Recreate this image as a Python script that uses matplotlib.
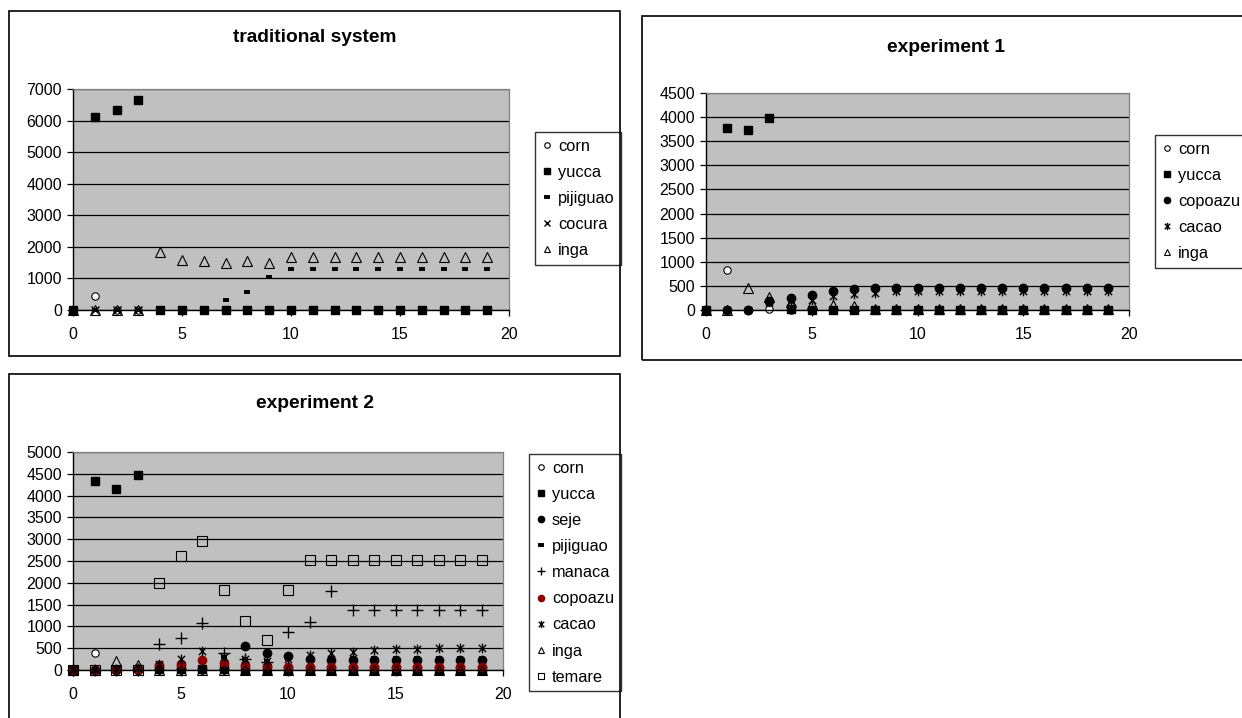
import matplotlib
matplotlib.use("Agg")
import matplotlib.pyplot as plt
from matplotlib.patches import Rectangle
from matplotlib.path import Path

plt.rcParams['font.family'] = ['Liberation Sans', 'DejaVu Sans']

years = list(range(20))

# traditional system
trad_corn = [0, 440, 0, 0, 0, 0, 0, 0, 0, 0, 0, 0, 0, 0, 0, 0, 0, 0, 0, 0]
trad_yucca = [0, 6100, 6340, 6650, 0, 0, 0, 0, 0, 0, 0, 0, 0, 0, 0, 0, 0, 0, 0, 0]
trad_pijiguao = [0, 0, 0, 0, 0, 0, 0, 320, 560, 1050, 1300, 1300, 1300, 1300, 1300, 1300, 1300, 1300, 1300, 1300]
trad_cocura = [0, 0, 0, 0, 0, 0, 0, 0, 0, 0, 0, 0, 0, 0, 0, 0, 0, 0, 0, 0]
trad_inga = [0, 0, 0, 0, 1850, 1590, 1545, 1500, 1550, 1500, 1680, 1680, 1680, 1680, 1680, 1680, 1680, 1680, 1680, 1680]

# experiment 1
e1_corn = [0, 830, 0, 15, 0, 0, 0, 0, 0, 0, 0, 0, 0, 0, 0, 0, 0, 0, 0, 0]
e1_yucca = [0, 3780, 3730, 3990, 20, 10, 10, 10, 0, 0, 0, 0, 0, 0, 0, 0, 0, 0, 0, 0]
e1_copoazu = [0, 0, 0, 190, 245, 320, 385, 435, 460, 460, 460, 460, 460, 460, 460, 460, 460, 460, 460, 460]
e1_cacao = [0, 0, 0, 175, 190, 215, 290, 330, 355, 385, 385, 385, 385, 385, 385, 385, 385, 385, 385, 385]
e1_inga = [0, 0, 460, 270, 160, 120, 100, 90, 30, 30, 30, 30, 30, 30, 30, 30, 30, 30, 30, 30]

# experiment 2
e2_corn = [0, 380, 0, 30, 0, 0, 0, 0, 0, 0, 0, 0, 0, 0, 0, 0, 0, 0, 0, 0]
e2_yucca = [0, 4330, 4160, 4480, 30, 30, 30, 30, 0, 0, 0, 0, 0, 0, 0, 0, 0, 0, 0, 0]
e2_seje = [0, 0, 0, 0, 20, 20, 30, 30, 545, 400, 310, 260, 240, 240, 240, 240, 240, 240, 240, 240]
e2_pijiguao = [0, 0, 0, 0, 0, 0, 0, 300, 250, 200, 250, 280, 280, 280, 280, 280, 280, 280, 280, 280]
e2_manaca = [0, 0, 0, 0, 595, 730, 1080, 390, 250, 180, 880, 1110, 1810, 1370, 1370, 1370, 1370, 1370, 1370, 1370]
e2_copoazu = [0, 0, 0, 30, 120, 140, 220, 160, 120, 100, 80, 80, 80, 80, 80, 80, 80, 80, 80, 80]
e2_cacao = [0, 0, 0, 50, 140, 250, 430, 300, 260, 200, 260, 335, 390, 405, 455, 485, 485, 515, 515, 515]
e2_inga = [0, 0, 210, 115, 0, 0, 0, 0, 0, 0, 0, 0, 0, 0, 0, 0, 0, 0, 0, 0]
e2_temare = [0, 0, 0, 0, 2005, 2615, 2960, 1830, 1120, 695, 1830, 2530, 2530, 2530, 2530, 2530, 2530, 2530, 2530, 2530]

# excel style asterisk: x with a vertical bar
asterisk = Path([(0, -1), (0, 1), (-0.75, -0.75), (0.75, 0.75), (-0.75, 0.75), (0.75, -0.75)],
                [Path.MOVETO, Path.LINETO, Path.MOVETO, Path.LINETO, Path.MOVETO, Path.LINETO])

styles = {
    'corn': dict(marker='o', ms=5.3, mfc='white', mec='black', mew=0.8),
    'yucca': dict(marker='s', ms=6, mfc='black', mec='black'),
    'pijiguao': dict(marker='_', ms=5, mec='black', mew=2.8),
    'cocura': dict(marker='x', ms=5.5, mec='black', mew=1.0),
    'inga': dict(marker='^', ms=6.5, mfc='none', mec='black', mew=0.8),
    'copoazu': dict(marker='o', ms=6, mfc='black', mec='black'),
    'copoazu_red': dict(marker='o', ms=6, mfc='#8b0000', mec='#8b0000'),
    'cacao': dict(marker=asterisk, ms=7, mec='black', mew=1.0),
    'seje': dict(marker='o', ms=6, mfc='black', mec='black'),
    'manaca': dict(marker='+', ms=8, mec='black', mew=1.0),
    'temare': dict(marker='s', ms=6.5, mfc='none', mec='black', mew=0.8),
}

W, H = 1242, 718
fig = plt.figure(figsize=(W / 100, H / 100), dpi=100)


def frac(x0, y0, x1, y1):
    # pixel box (top-left origin) -> figure fraction [l, b, w, h]
    return [x0 / W, 1 - y1 / H, (x1 - x0) / W, (y1 - y0) / H]


def panel(box, axbox, title, title_y, series, ymax, ystep, leg_xy):
    fig.add_artist(Rectangle((box[0], box[1]), box[2], box[3], transform=fig.transFigure,
                             fill=False, edgecolor='black', lw=1.2))
    fig.text(box[0] + box[2] / 2, 1 - title_y / H, title, ha='center', va='center',
             fontsize=13.8, fontweight='bold')
    ax = fig.add_axes(axbox)
    ax.set_facecolor('#c0c0c0')
    for name, vals, st in series:
        ax.plot(years, vals, linestyle='none', label=name, clip_on=False, **styles[st])
    ax.set_xlim(0, 20)
    ax.set_ylim(0, ymax)
    ax.set_xticks(range(0, 21, 5))
    ax.set_yticks(range(0, ymax + 1, ystep))
    ax.set_axisbelow(True)
    ax.yaxis.grid(True, color='black', lw=0.9)
    ax.tick_params(axis='both', direction='out', length=4, width=0.9, labelsize=11.5, colors='black')
    ax.tick_params(axis='x', pad=8)
    ax.tick_params(axis='y', pad=4)
    for s in ['left', 'bottom']:
        ax.spines[s].set_color('black')
        ax.spines[s].set_linewidth(1.0)
    for s in ['top', 'right']:
        ax.spines[s].set_color('#808080')
        ax.spines[s].set_linewidth(0.9)
    leg = ax.legend(loc='upper left', bbox_to_anchor=(leg_xy[0] / W, 1 - leg_xy[1] / H),
                    bbox_transform=fig.transFigure, borderaxespad=0, frameon=True,
                    fancybox=False, edgecolor='black', fontsize=11.8, labelspacing=0.68,
                    handlelength=0.7, handletextpad=0.3, borderpad=0.4, numpoints=1,
                    markerscale=0.75)
    leg.get_frame().set_linewidth(1.0)
    return ax


panel(frac(9, 11, 620, 356), frac(73, 89, 509, 310), 'traditional system', 37,
      [('corn', trad_corn, 'corn'), ('yucca', trad_yucca, 'yucca'),
       ('pijiguao', trad_pijiguao, 'pijiguao'), ('cocura', trad_cocura, 'cocura'),
       ('inga', trad_inga, 'inga')],
      7000, 1000, (535, 132))

panel(frac(642, 16, 1250, 360), frac(706, 93, 1129, 310), 'experiment 1', 47,
      [('corn', e1_corn, 'corn'), ('yucca', e1_yucca, 'yucca'),
       ('copoazu', e1_copoazu, 'copoazu'), ('cacao', e1_cacao, 'cacao'),
       ('inga', e1_inga, 'inga')],
      4500, 500, (1155, 135))

panel(frac(9, 374, 620, 726), frac(73, 452, 503, 670), 'experiment 2', 403,
      [('corn', e2_corn, 'corn'), ('yucca', e2_yucca, 'yucca'), ('seje', e2_seje, 'seje'),
       ('pijiguao', e2_pijiguao, 'pijiguao'), ('manaca', e2_manaca, 'manaca'),
       ('copoazu', e2_copoazu, 'copoazu_red'), ('cacao', e2_cacao, 'cacao'),
       ('inga', e2_inga, 'inga'), ('temare', e2_temare, 'temare')],
      5000, 500, (529, 454))

fig.savefig('out.png', dpi=100)
